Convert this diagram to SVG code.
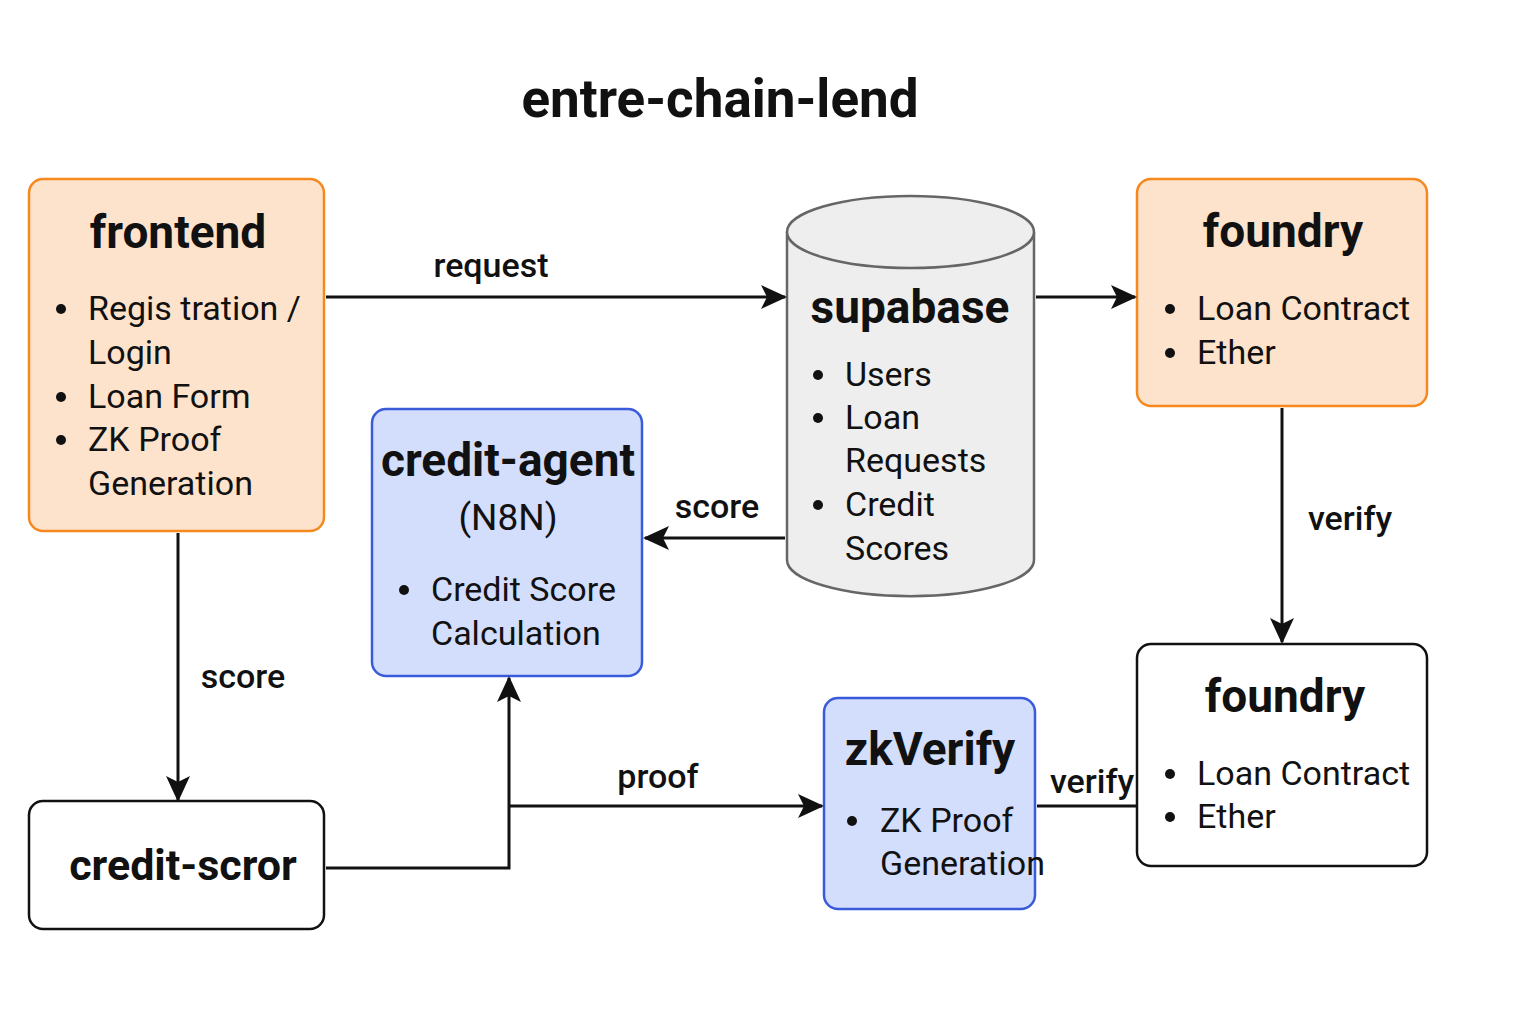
<svg xmlns="http://www.w3.org/2000/svg" width="1536" height="1024" viewBox="0 0 1536 1024">
<defs>
<marker id="arr" markerUnits="userSpaceOnUse" markerWidth="26" markerHeight="24" refX="24" refY="12" orient="auto">
<path d="M0,0 L26,12 L0,24 L6,12 Z" fill="#111"/>
</marker>
<style>
text{font-family:Roboto,Inter,"Noto Sans","Liberation Sans",sans-serif;fill:#111}
.title{font-size:53px;font-weight:700;text-anchor:middle}
.h{font-size:46px;font-weight:700;text-anchor:middle}
.t{font-size:34px;font-weight:400}
.lbl{font-size:34px;font-weight:500;text-anchor:middle}
.orange{fill:#fde3cc;stroke:#f5891f;stroke-width:2.5}
.blue{fill:#d3ddfc;stroke:#3a5bd9;stroke-width:2.5}
.white{fill:#fff;stroke:#111;stroke-width:2.5}
.db{fill:#eeeeee;stroke:#666;stroke-width:2.5}
.c{fill:none;stroke:#111;stroke-width:3}
.dot{fill:#111}
</style>
</defs>
<rect width="1536" height="1024" fill="#fff"/>
<text class="title" x="720" y="117">entre-chain-lend</text>

<g id="frontend">
<rect class="orange" x="29" y="179" width="295" height="352" rx="14"/>
<text class="h" x="178" y="248">frontend</text>
<circle class="dot" cx="61" cy="309" r="5"/>
<text class="t" x="88" y="320">Regis tration /</text>
<text class="t" x="88" y="364">Login</text>
<circle class="dot" cx="61" cy="397" r="5"/>
<text class="t" x="88" y="408">Loan Form</text>
<circle class="dot" cx="61" cy="440" r="5"/>
<text class="t" x="88" y="451">ZK Proof</text>
<text class="t" x="88" y="495">Generation</text>
</g>

<g id="supabase">
<path class="db" d="M787,232 L787,560 A123,36 0 0 0 1034,560 L1034,232"/>
<ellipse class="db" cx="910.5" cy="232" rx="123.5" ry="36"/>
<text class="h" x="910" y="323">supabase</text>
<circle class="dot" cx="818" cy="375" r="5"/>
<text class="t" x="845" y="386">Users</text>
<circle class="dot" cx="818" cy="418" r="5"/>
<text class="t" x="845" y="429">Loan</text>
<text class="t" x="845" y="472">Requests</text>
<circle class="dot" cx="818" cy="505" r="5"/>
<text class="t" x="845" y="516">Credit</text>
<text class="t" x="845" y="560">Scores</text>
</g>

<g id="foundry-top">
<rect class="orange" x="1137" y="179" width="290" height="227" rx="14"/>
<text class="h" x="1283" y="247">foundry</text>
<circle class="dot" cx="1170" cy="309" r="5"/>
<text class="t" x="1197" y="320">Loan Contract</text>
<circle class="dot" cx="1170" cy="353" r="5"/>
<text class="t" x="1197" y="364">Ether</text>
</g>

<g id="credit-agent">
<rect class="blue" x="372" y="409" width="270" height="267" rx="14"/>
<text class="h" x="508" y="476">credit-agent</text>
<text class="t" x="508" y="530" text-anchor="middle" style="font-size:37px">(N8N)</text>
<circle class="dot" cx="404" cy="590" r="5"/>
<text class="t" x="431" y="601">Credit Score</text>
<text class="t" x="431" y="645">Calculation</text>
</g>

<g id="credit-scror">
<rect class="white" x="29" y="801" width="295" height="128" rx="14"/>
<text class="h" x="183" y="880" style="font-size:43px">credit-scror</text>
</g>

<g id="zkVerify">
<rect class="blue" x="824" y="698" width="211" height="211" rx="14"/>
<text class="h" x="930" y="765">zkVerify</text>
<circle class="dot" cx="852" cy="821" r="5"/>
<text class="t" x="880" y="832">ZK Proof</text>
<text class="t" x="880" y="875">Generation</text>
</g>

<g id="foundry-bottom">
<rect class="white" x="1137" y="644" width="290" height="222" rx="14"/>
<text class="h" x="1285" y="712">foundry</text>
<circle class="dot" cx="1170" cy="774" r="5"/>
<text class="t" x="1197" y="785">Loan Contract</text>
<circle class="dot" cx="1170" cy="817" r="5"/>
<text class="t" x="1197" y="828">Ether</text>
</g>

<g id="connectors">
<path class="c" d="M326,297 L785,297" marker-end="url(#arr)"/>
<text class="lbl" x="491" y="277">request</text>
<path class="c" d="M1036,297 L1135,297" marker-end="url(#arr)"/>
<path class="c" d="M1282,408 L1282,642" marker-end="url(#arr)"/>
<text class="lbl" x="1350" y="530">verify</text>
<path class="c" d="M785,538 L645,538" marker-end="url(#arr)"/>
<text class="lbl" x="717" y="518">score</text>
<path class="c" d="M178,533 L178,800" marker-end="url(#arr)"/>
<text class="lbl" x="243" y="688">score</text>
<path class="c" d="M326,868 L509,868 L509,678" marker-end="url(#arr)"/>
<path class="c" d="M509,806 L822,806" marker-end="url(#arr)"/>
<text class="lbl" x="658" y="788">proof</text>
<path class="c" d="M1037,806 L1137,806"/>
<text class="lbl" x="1092" y="793">verify</text>
</g>
</svg>
